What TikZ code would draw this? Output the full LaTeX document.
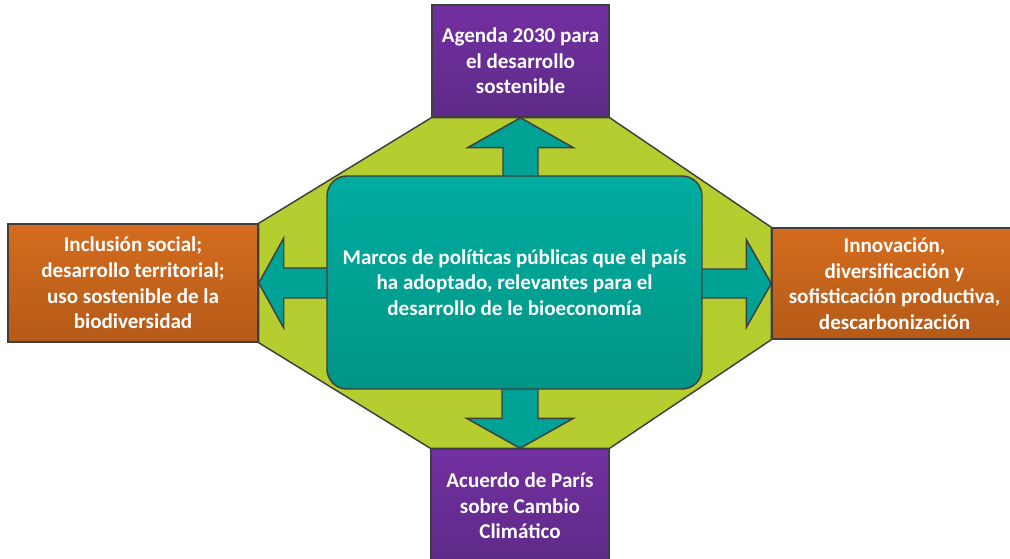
\documentclass[tikz,border=0pt]{standalone}
\usepackage{fontspec}
\setmainfont{Carlito}
\usetikzlibrary{positioning,backgrounds}

\definecolor{purpleTop}{HTML}{7230A0}
\definecolor{purpleBot}{HTML}{5E2A88}
\definecolor{orangeTop}{HTML}{D46C1E}
\definecolor{orangeBot}{HTML}{B55A18}
\definecolor{tealTop}{HTML}{00AD9F}
\definecolor{tealBot}{HTML}{009586}
\definecolor{tealArrow}{HTML}{00A295}
\definecolor{limeFill}{HTML}{B5CD2F}
\definecolor{edgeGray}{HTML}{3F3F3F}

\begin{document}
\begin{tikzpicture}[
    x=0.75pt, y=-0.75pt,
    box/.style={rectangle, draw=edgeGray, line width=1.1pt, align=center, text=white,
      font=\fontsize{15.8}{19.2}\selectfont\bfseries, inner sep=2pt},
    framework/.style={box, top color=purpleTop, bottom color=purpleBot},
    goal/.style={box, top color=orangeTop, bottom color=orangeBot},
    core/.style={box, rounded corners=15pt, top color=tealTop, bottom color=tealBot},
    blockarrow/.style={draw=edgeGray, line width=1.1pt, fill=tealArrow, line join=miter},
    octagon/.style={draw=edgeGray, line width=1.1pt, fill=limeFill}
  ]

    \useasboundingbox (0,0) rectangle (1010,559);

    \node[framework, minimum width=132.75pt, minimum height=84pt] (agenda) at (520.5,61) {
      Agenda 2030 para\\
      el desarrollo\\
      sostenible
    };

    \node[framework, minimum width=133.5pt, minimum height=85.5pt] (paris) at (520,506) {
      Acuerdo de París\\
      sobre Cambio\\
      Climático
    };

    \node[goal, minimum width=187.5pt, minimum height=88.5pt] (inclusion) at (133,283) {
      Inclusión social;\\
      desarrollo territorial;\\
      uso sostenible de la\\
      biodiversidad
    };

    \node[goal, minimum width=183.75pt, minimum height=83.25pt] (innovation) at (894.5,283.5) {
      Innovación,\\
      diversificación y\\
      sofisticación productiva,\\
      descarbonización
    };

    \node[core, minimum width=281.25pt, minimum height=159.75pt] (marcos) at (514.5,282.5) {
      Marcos de políticas públicas que el país\\
      ha adoptado, relevantes para el\\
      desarrollo de le bioeconomía
    };

    \begin{scope}[on background layer]
      \draw[octagon] (agenda.south west) -- (agenda.south east) -- (innovation.north west)
        -- (innovation.south west) -- (paris.north east) -- (paris.north west)
        -- (inclusion.south east) -- (inclusion.north east) -- cycle;

      \draw[blockarrow] (agenda.south) -- ++(53,30) -- ++(-35.5,0) -- ++(0,40)
        -- ++(-35,0) -- ++(0,-40) -- ++(-35.5,0) -- cycle;
      \draw[blockarrow] (paris.north) -- ++(53.5,-30) -- ++(-35.5,0) -- ++(0,-40)
        -- ++(-36,0) -- ++(0,40) -- ++(-35.5,0) -- cycle;
      \draw[blockarrow] (inclusion.east) -- ++(25,-45) -- ++(0,30) -- ++(60,0)
        -- ++(0,30) -- ++(-60,0) -- ++(0,30) -- cycle;
      \draw[blockarrow] (innovation.west) -- ++(-25,-44) -- ++(0,29.5) -- ++(-60,0)
        -- ++(0,29) -- ++(60,0) -- ++(0,29.5) -- cycle;
    \end{scope}
  \end{tikzpicture}
\end{document}
